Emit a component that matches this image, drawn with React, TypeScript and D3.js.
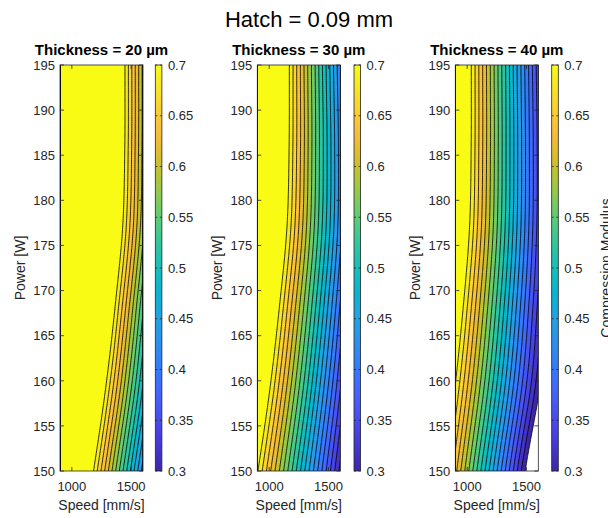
import React from 'react';
import * as d3 from 'd3';

// ---------- data ----------
const speeds = [900, 1000, 1100, 1200, 1300, 1400, 1500, 1600];
const powers = [150, 159, 168, 177, 186, 195];
const thicknessTitles = ['Thickness = 20 µm', 'Thickness = 30 µm', 'Thickness = 40 µm'];

// rows: power 150 -> 195, columns: speed 900 -> 1600
const modulus20 = [
  [0.8, 0.8, 0.754, 0.689, 0.625, 0.56, 0.496, 0.431],
  [0.8, 0.8, 0.8, 0.754, 0.689, 0.625, 0.56, 0.496],
  [0.8, 0.8, 0.8, 0.8, 0.742, 0.675, 0.609, 0.542],
  [0.8, 0.8, 0.8, 0.8, 0.785, 0.719, 0.652, 0.585],
  [0.8, 0.8, 0.8, 0.8, 0.8, 0.732, 0.663, 0.594],
  [0.8, 0.8, 0.8, 0.8, 0.8, 0.733, 0.664, 0.595],
];
const modulus30 = [
  [0.703, 0.647, 0.592, 0.536, 0.48, 0.425, 0.369, 0.314],
  [0.76, 0.703, 0.646, 0.589, 0.532, 0.474, 0.417, 0.36],
  [0.8, 0.75, 0.691, 0.632, 0.574, 0.515, 0.456, 0.397],
  [0.8, 0.791, 0.73, 0.67, 0.609, 0.548, 0.488, 0.427],
  [0.8, 0.8, 0.743, 0.68, 0.618, 0.555, 0.493, 0.43],
  [0.8, 0.8, 0.745, 0.681, 0.616, 0.552, 0.487, 0.423],
];
const modulus40 = [
  [0.647, 0.588, 0.529, 0.471, 0.412, 0.353, 0.294, 0.235],
  [0.697, 0.64, 0.583, 0.526, 0.469, 0.412, 0.357, 0.305],
  [0.738, 0.68, 0.622, 0.564, 0.506, 0.448, 0.39, 0.334],
  [0.773, 0.712, 0.652, 0.592, 0.532, 0.472, 0.412, 0.352],
  [0.783, 0.721, 0.659, 0.598, 0.537, 0.476, 0.415, 0.354],
  [0.786, 0.722, 0.659, 0.597, 0.535, 0.473, 0.411, 0.349],
];
const panelData = [modulus20, modulus30, modulus40];

const contourLevels = [0.3, 0.32, 0.34, 0.36, 0.38, 0.4, 0.42, 0.44, 0.46, 0.48, 0.5, 0.52, 0.54, 0.56, 0.58, 0.6, 0.62, 0.64, 0.66, 0.68, 0.7];
const speedTicks = [1000, 1500];
const powerTicks = [150, 155, 160, 165, 170, 175, 180, 185, 190, 195];
const colorbarTicks = [0.3, 0.35, 0.4, 0.45, 0.5, 0.55, 0.6, 0.65, 0.7];
const colorbarTickLabels = ['0.3', '0.35', '0.4', '0.45', '0.5', '0.55', '0.6', '0.65', '0.7'];
const mainTitle = 'Hatch = 0.09 mm';
const xLabel = 'Speed [mm/s]';
const yLabel = 'Power [W]';
const cbLabel = 'Compression Modulus';

// ---------- styling ----------
const W = 608;
const H = 518;
const FONT = '"Liberation Sans", Arial, Helvetica, sans-serif';
const AX = '#262626';
const plotTop = 65;
const plotBottom = 471;
const panelLeft = [60, 257.3, 455.3];
const panelWidth = 83;
const cbLeft = [155.3, 354, 551.7];
const cbWidth = 6.6;

// parula colormap anchors
const parulaAnchors = [
  [0.2422, 0.1504, 0.6603], [0.2706, 0.2147, 0.8364], [0.2813, 0.3006, 0.9414],
  [0.2699, 0.3892, 0.9906], [0.1963, 0.4847, 0.9892], [0.1687, 0.5703, 0.9359],
  [0.1248, 0.6459, 0.8883], [0.0297, 0.7082, 0.8163], [0.0964, 0.75, 0.712],
  [0.2161, 0.7843, 0.5923], [0.3909, 0.8029, 0.4354], [0.6174, 0.7876, 0.2612],
  [0.8203, 0.7498, 0.1535], [0.9728, 0.7298, 0.2394], [0.9892, 0.8136, 0.1885],
  [0.9597, 0.9135, 0.1423], [0.9769, 0.9839, 0.0805],
];
const parulaColors = parulaAnchors.map(([r, g, b]) => d3.rgb(r * 255, g * 255, b * 255).formatHex());
const parula = d3.scaleLinear<string>()
  .domain(parulaColors.map((_, i) => (i === parulaColors.length - 1 ? 1 : (i * 4) / 63)))
  .range(parulaColors)
  .interpolate(d3.interpolateRgb)
  .clamp(true);
const cmin = 0.3;
const cmax = 0.7;
const colorOf = (v: number) => parula((v - cmin) / (cmax - cmin));

// fine sampling grid used only for rendering the contour field
const FS = 5; // speed step
const FP = 0.25; // power step
const nx = Math.round((speeds[speeds.length - 1] - speeds[0]) / FS) + 1;
const ny = Math.round((powers[powers.length - 1] - powers[0]) / FP) + 1;

function catmull(p0: number, p1: number, p2: number, p3: number, t: number) {
  return 0.5 * (2 * p1 + (-p0 + p2) * t + (2 * p0 - 5 * p1 + 4 * p2 - p3) * t * t + (-p0 + 3 * p1 - 3 * p2 + p3) * t * t * t);
}

function sampleField(grid: number[][]): number[] {
  const out = new Array(nx * ny);
  const nr = powers.length;
  const rowAt = (k: number, s: number) => {
    let si = d3.bisectRight(speeds, s) - 1;
    si = Math.max(0, Math.min(speeds.length - 2, si));
    const ts = (s - speeds[si]) / (speeds[si + 1] - speeds[si]);
    const get = (kk: number) => grid[kk][si] * (1 - ts) + grid[kk][si + 1] * ts;
    if (k < 0) return 2 * get(0) - get(1);
    if (k > nr - 1) return 2 * get(nr - 1) - get(nr - 2);
    return get(k);
  };
  for (let j = 0; j < ny; j++) {
    const p = powers[0] + j * FP;
    let pj = d3.bisectRight(powers, p) - 1;
    pj = Math.max(0, Math.min(nr - 2, pj));
    const tp = (p - powers[pj]) / (powers[pj + 1] - powers[pj]);
    for (let i = 0; i < nx; i++) {
      const s = speeds[0] + i * FS;
      out[j * nx + i] = catmull(rowAt(pj - 1, s), rowAt(pj, s), rowAt(pj + 1, s), rowAt(pj + 2, s), tp);
    }
  }
  return out;
}

function Panel({ idx }: { idx: number }) {
  const left = panelLeft[idx];
  const right = left + panelWidth;
  const x = d3.scaleLinear().domain([speeds[0], speeds[speeds.length - 1]]).range([left, right]);
  const y = d3.scaleLinear().domain([powers[0], powers[powers.length - 1]]).range([plotBottom, plotTop]);
  const values = sampleField(panelData[idx]);
  const contours = d3.contours().size([nx, ny]).thresholds(contourLevels)(values);
  const proj = d3.geoTransform({
    point(gx: number, gy: number) {
      (this as any).stream.point(x(speeds[0] + (gx - 0.5) * FS), y(powers[0] + (gy - 0.5) * FP));
    },
  });
  const path = d3.geoPath(proj as any);
  const clipId = `clip${idx}`;
  const cx = (left + right) / 2;
  const tl = 4;
  const cbl = cbLeft[idx];
  const cbr = cbl + cbWidth;
  const cy = d3.scaleLinear().domain([cmin, cmax]).range([plotBottom, plotTop]);
  const gradId = `grad${idx}`;
  const stops = d3.range(0, 1.0001, 1 / 32);
  return (
    <g>
      <defs>
        <clipPath id={clipId}>
          <rect x={left} y={plotTop} width={panelWidth} height={plotBottom - plotTop} />
        </clipPath>
        <linearGradient id={gradId} x1="0" y1="1" x2="0" y2="0">
          {stops.map((t) => (
            <stop key={t} offset={t} stopColor={parula(t)} />
          ))}
        </linearGradient>
      </defs>
      <rect x={left} y={plotTop} width={panelWidth} height={plotBottom - plotTop} fill="#fff" />
      <g clipPath={`url(#${clipId})`}>
        {contours.map((c, k) => (
          <path key={`f${k}`} d={path(c as any) || ''} fill={colorOf(c.value)} stroke="none" />
        ))}
        {contours.map((c, k) => (
          <path key={`l${k}`} d={path(c as any) || ''} fill="none" stroke="#000" strokeWidth={0.8} />
        ))}
      </g>
      {/* axes box */}
      <rect x={left} y={plotTop} width={panelWidth} height={plotBottom - plotTop} fill="none" stroke={AX} strokeWidth={0.8} />
      {speedTicks.map((t) => (
        <g key={`xt${t}`}>
          <line x1={x(t)} x2={x(t)} y1={plotBottom} y2={plotBottom - tl} stroke={AX} strokeWidth={0.8} />
          <line x1={x(t)} x2={x(t)} y1={plotTop} y2={plotTop + tl} stroke={AX} strokeWidth={0.8} />
          <text x={x(t)} y={plotBottom + 20} textAnchor="middle" fontSize={13} fontFamily={FONT} fill={AX}>
            {t}
          </text>
        </g>
      ))}
      {powerTicks.map((t) => (
        <g key={`yt${t}`}>
          <line x1={left} x2={left + tl} y1={y(t)} y2={y(t)} stroke={AX} strokeWidth={0.8} />
          <line x1={right} x2={right - tl} y1={y(t)} y2={y(t)} stroke={AX} strokeWidth={0.8} />
          <text x={left - 5} y={y(t) + 4.8} textAnchor="end" fontSize={13} fontFamily={FONT} fill={AX}>
            {t}
          </text>
        </g>
      ))}
      <text x={cx} y={plotBottom + 39} textAnchor="middle" fontSize={14} fontFamily={FONT} fill={AX}>
        {xLabel}
      </text>
      <text
        transform={`translate(${left - 35},${(plotTop + plotBottom) / 2}) rotate(-90)`}
        textAnchor="middle"
        fontSize={14}
        fontFamily={FONT}
        fill={AX}
      >
        {yLabel}
      </text>
      <text x={cx} y={55} textAnchor="middle" fontSize={15} fontWeight="bold" fontFamily={FONT} fill="#000">
        {thicknessTitles[idx]}
      </text>
      {/* colorbar */}
      <rect x={cbl} y={plotTop} width={cbWidth} height={plotBottom - plotTop} fill={`url(#${gradId})`} />
      <rect x={cbl} y={plotTop} width={cbWidth} height={plotBottom - plotTop} fill="none" stroke={AX} strokeWidth={0.8} />
      {colorbarTicks.map((t, k) => (
        <g key={`ct${k}`}>
          <line x1={cbr} x2={cbr - 2} y1={cy(t)} y2={cy(t)} stroke={AX} strokeWidth={0.8} />
          <line x1={cbl} x2={cbl + 2} y1={cy(t)} y2={cy(t)} stroke={AX} strokeWidth={0.8} />
          <text x={cbr + 6} y={cy(t) + 4.6} fontSize={13} fontFamily={FONT} fill={AX}>
            {colorbarTickLabels[k]}
          </text>
        </g>
      ))}
    </g>
  );
}

export default function App() {
  return (
    <svg width={W} height={H} style={{ position: 'absolute', left: 0, top: 0, background: '#fff' }}>
      <rect width={W} height={H} fill="#fff" />
      <text x={309} y={27} textAnchor="middle" fontSize={22} fontFamily={FONT} fill="#000">
        {mainTitle}
      </text>
      {[0, 1, 2].map((i) => (
        <Panel key={i} idx={i} />
      ))}
      <text
        transform={`translate(611,${(plotTop + plotBottom) / 2}) rotate(-90)`}
        textAnchor="middle"
        fontSize={14}
        fontFamily={FONT}
        fill={AX}
      >
        {cbLabel}
      </text>
    </svg>
  );
}
